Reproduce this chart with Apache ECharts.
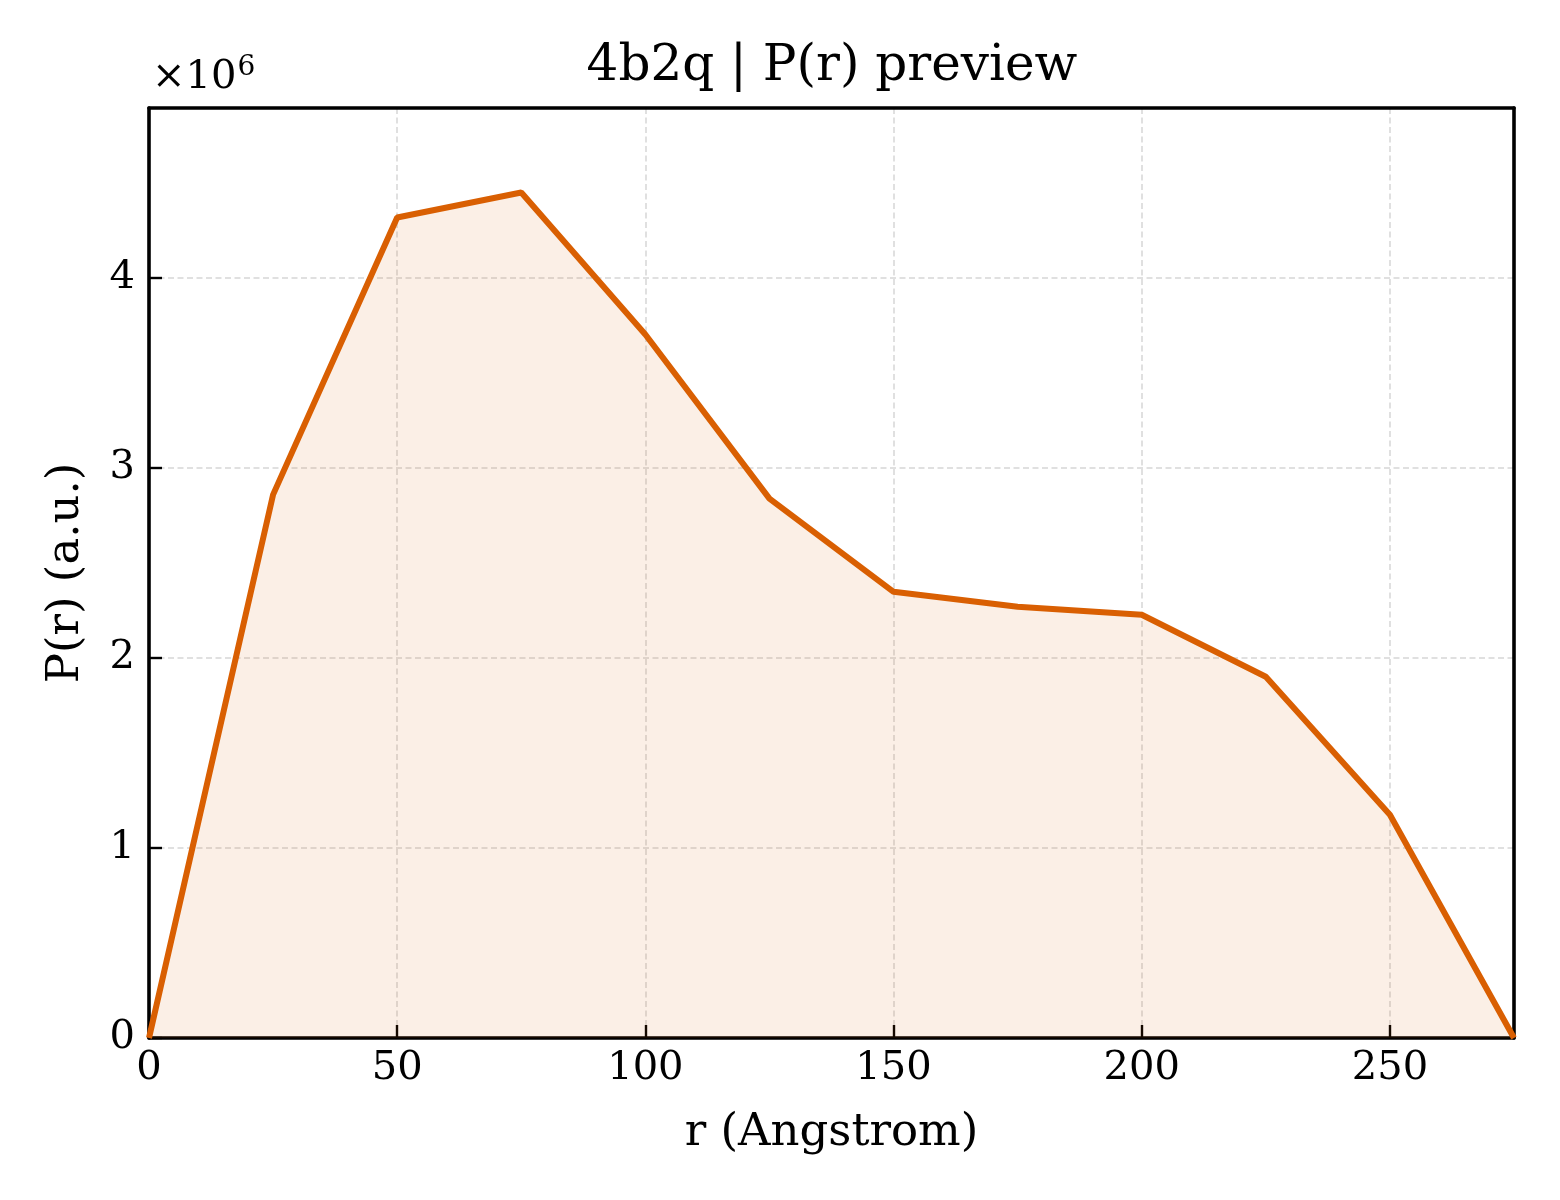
<!DOCTYPE html>
<html>
<head>
<meta charset="utf-8">
<script src="https://cdn.jsdelivr.net/npm/echarts@6/dist/echarts.min.js"></script>
<style>
html,body{margin:0;padding:0;background:#fff;}
#chart{width:1560px;height:1200px;}
</style>
</head>
<body>
<div id="chart"></div>
<script>
const rValues = [0, 25, 50, 75, 100, 125, 150, 175, 200, 225, 250, 275];
const prValues = [0, 2858000, 4316000, 4447000, 3700000, 2837000, 2347000, 2268000, 2226000, 1900000, 1174000, 0];
const titleText = '4b2q | P(r) preview';
const xName = 'r (Angstrom)';
const yName = 'P(r) (a.u.)';

const font = "'DejaVu Serif', 'Liberation Serif', serif";
const chart = echarts.init(document.getElementById('chart'), null, {renderer: 'canvas'});
const data = rValues.map((r, i) => [r, prValues[i]]);
const xMin = 0, xMax = 275, yMin = 0, yMax = 4891700;

const frameAxis = {
  show: true,
  axisLine: {show: true, onZero: false, lineStyle: {color: '#000', width: 3.6}},
  axisTick: {show: false}, axisLabel: {show: false}, splitLine: {show: false}
};

chart.setOption({
  animation: false,
  backgroundColor: '#fff',
  title: {
    text: titleText,
    left: 827, top: 37, textAlign: 'center',
    textStyle: {fontFamily: font, fontSize: 50, fontWeight: 'normal', color: '#000'}
  },
  graphic: [{
    type: 'text', left: 152, top: 54,
    style: {
      text: '{a|×10}{b|6}',
      rich: {
        a: {fontFamily: font, fontSize: 40, fill: '#000', verticalAlign: 'bottom'},
        b: {fontFamily: font, fontSize: 28, fill: '#000', verticalAlign: 'top', padding: [0,0,16,1]}
      }
    }
  }],
  grid: {left: 149, right: 46, top: 108, bottom: 162},
  xAxis: [{
    type: 'value', min: xMin, max: xMax, interval: 50,
    name: xName, nameLocation: 'middle', nameGap: 73,
    nameTextStyle: {fontFamily: font, fontSize: 45, color: '#000'},
    axisLine: {show: true, onZero: false, lineStyle: {color: '#000', width: 3.6}},
    axisTick: {show: true, inside: true, length: 13, lineStyle: {color: '#000', width: 2.4}},
    axisLabel: {fontFamily: font, fontSize: 40, color: '#000', margin: 11, showMaxLabel: false},
    splitLine: {show: true, lineStyle: {color: '#d6d6d6', width: 1.5, type: [6, 3.5]}}
  }, Object.assign({type: 'value', position: 'top', min: xMin, max: xMax}, frameAxis)],
  yAxis: [{
    type: 'value', min: yMin, max: yMax, interval: 1000000,
    name: yName, nameLocation: 'middle', nameGap: 60, nameRotate: 90,
    nameTextStyle: {fontFamily: font, fontSize: 45, color: '#000'},
    axisLine: {show: true, onZero: false, lineStyle: {color: '#000', width: 3.6}},
    axisTick: {show: true, inside: true, length: 13, lineStyle: {color: '#000', width: 2.4}},
    axisLabel: {fontFamily: font, fontSize: 40, color: '#000', margin: 14, showMaxLabel: false,
      formatter: v => String(Math.round(v / 1e6))},
    splitLine: {show: true, lineStyle: {color: '#d6d6d6', width: 1.5, type: [6, 3.5]}}
  }, Object.assign({type: 'value', position: 'right', min: yMin, max: yMax}, frameAxis)],
  series: [{
    type: 'line', data: data, showSymbol: false, symbol: 'none',
    lineStyle: {color: '#D95F02', width: 6},
    areaStyle: {color: 'rgba(217,95,2,0.14)', origin: 'start'},
    z: 3
  }]
});
</script>
</body>
</html>
